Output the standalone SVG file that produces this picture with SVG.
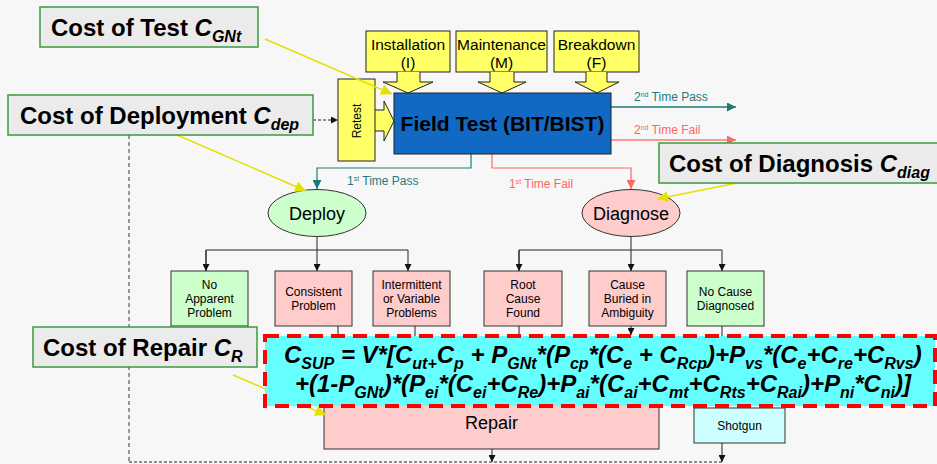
<svg xmlns="http://www.w3.org/2000/svg" width="937" height="464" viewBox="0 0 937 464">
<style>
text{font-family:"Liberation Sans",Arial,sans-serif;fill:#000}
.ann{fill:#EBEBEB;stroke:#3C9A3C;stroke-width:1.5}
.annt{font-size:24px;font-weight:bold}
.sub{font-size:16px;font-style:italic}
.inp{fill:#FFFF66;stroke:#222;stroke-width:1}
.inpt{font-size:15.5px;text-anchor:middle}
.pink{fill:#FFCCCC;stroke:#333;stroke-width:1}
.green{fill:#CCFFCC;stroke:#333;stroke-width:1}
.cyan{fill:#CCFFFF;stroke:#333;stroke-width:1}
.small{font-size:12px;text-anchor:middle}
.ell{font-size:18px;text-anchor:middle}
.lbl{font-size:12px}
.conn{fill:none;stroke:#222;stroke-width:1}
.yel{stroke:#E6E000;stroke-width:1.5;fill:none}
.f{font-size:24px;font-weight:bold;font-style:italic}
.fs{font-size:16px}
</style>
<defs>
<marker id="ab" viewBox="0 0 10 10" refX="10" refY="5" markerWidth="7" markerHeight="7" markerUnits="userSpaceOnUse" orient="auto"><path d="M0,0L10,5L0,10z" fill="#111"/></marker>
<marker id="at" viewBox="0 0 10 10" refX="10" refY="5" markerWidth="9" markerHeight="9" markerUnits="userSpaceOnUse" orient="auto"><path d="M0,0L10,5L0,10z" fill="#1F7A7A"/></marker>
<marker id="ar" viewBox="0 0 10 10" refX="10" refY="5" markerWidth="9" markerHeight="9" markerUnits="userSpaceOnUse" orient="auto"><path d="M0,0L10,5L0,10z" fill="#FF6666"/></marker>
<marker id="ay" viewBox="0 0 10 10" refX="10" refY="5" markerWidth="11" markerHeight="11" markerUnits="userSpaceOnUse" orient="auto"><path d="M0,0L10,5L0,10z" fill="#E6E000"/></marker>
</defs>
<rect width="937" height="464" fill="#F7F7F7"/>

<g id="connectors">
<line x1="129" y1="135" x2="129" y2="462" stroke="#777" stroke-width="1.5" stroke-dasharray="4,3"/>
<line x1="129" y1="462" x2="722" y2="462" stroke="#222" stroke-width="1" stroke-dasharray="3,2"/>
<line x1="313" y1="120" x2="338" y2="120" class="conn" stroke-dasharray="3,2" marker-end="url(#ab)"/>
<polyline points="611,107 736,107" fill="none" stroke="#1F7A7A" stroke-width="1.5" marker-end="url(#at)"/>
<polyline points="611,140 736,140" fill="none" stroke="#FF7777" stroke-width="1.5" marker-end="url(#ar)"/>
<polyline points="471,154 471,168 317,168 317,189" fill="none" stroke="#1F7A7A" stroke-width="1.2" marker-end="url(#at)"/>
<polyline points="492,154 492,168 631,168 631,189" fill="none" stroke="#FF6666" stroke-width="1.2" marker-end="url(#ar)"/>
<line x1="317" y1="237" x2="317" y2="250" class="conn"/>
<polyline points="206,271 206,250 408,250 408,271" class="conn" marker-end="url(#ab)"/>
<line x1="206" y1="250" x2="206" y2="271" class="conn" marker-end="url(#ab)"/>
<line x1="317" y1="250" x2="317" y2="271" class="conn" marker-end="url(#ab)"/>
<line x1="631" y1="237" x2="631" y2="250" class="conn"/>
<polyline points="519,271 519,250 722,250 722,271" class="conn" marker-end="url(#ab)"/>
<line x1="519" y1="250" x2="519" y2="271" class="conn" marker-end="url(#ab)"/>
<line x1="631" y1="250" x2="631" y2="271" class="conn" marker-end="url(#ab)"/>
<line x1="338" y1="326" x2="338" y2="406" class="conn"/>
<line x1="415" y1="326" x2="415" y2="406" class="conn"/>
<line x1="519" y1="326" x2="519" y2="406" class="conn"/>
<line x1="631" y1="326" x2="631" y2="335" class="conn" marker-end="url(#ab)"/>
<line x1="722" y1="326" x2="722" y2="408" class="conn"/>
<line x1="492" y1="449" x2="492" y2="462" class="conn" marker-end="url(#ab)"/>
<line x1="722" y1="443" x2="722" y2="462" class="conn" marker-end="url(#ab)"/>
</g>

<g id="label-2nd-pass"><text x="634" y="101" class="lbl" style="fill:#1F7A7A">2<tspan font-size="7" dy="-4">nd</tspan><tspan dy="4"> Time Pass</tspan></text></g>
<g id="label-2nd-fail"><text x="634" y="134" class="lbl" style="fill:#FF6666">2<tspan font-size="7" dy="-4">nd</tspan><tspan dy="4"> Time Fail</tspan></text></g>
<g id="label-1st-pass"><text x="347" y="185" class="lbl" style="fill:#1F7A7A">1<tspan font-size="7" dy="-4">st</tspan><tspan dy="4"> Time Pass</tspan></text></g>
<g id="label-1st-fail"><text x="509" y="188" class="lbl" style="fill:#FF6666">1<tspan font-size="7" dy="-4">st</tspan><tspan dy="4"> Time Fail</tspan></text></g>

<g id="installation">
<rect x="366" y="31" width="84" height="41" class="inp"/>
<text x="408" y="50" class="inpt">Installation</text><text x="408" y="68" class="inpt">(I)</text>
<path d="M397,72 V82 H383 L408,93 L433,82 H420 V72" class="inp"/>
</g>
<g id="maintenance">
<rect x="456" y="31" width="91" height="41" class="inp"/>
<text x="501.5" y="50" class="inpt">Maintenance</text><text x="501.5" y="68" class="inpt">(M)</text>
<path d="M490,72 V82 H478 L502,93 L526,82 H514 V72" class="inp"/>
</g>
<g id="breakdown">
<rect x="554" y="31" width="85" height="41" class="inp"/>
<text x="596.5" y="50" class="inpt">Breakdown</text><text x="596.5" y="68" class="inpt">(F)</text>
<path d="M586,72 V82 H575 L597,93 L619,82 H607 V72" class="inp"/>
</g>
<g id="retest">
<path d="M375,110 H384 V101 L394,121 L384,141 V131 H375" class="inp"/>
<rect x="338" y="79" width="37" height="82" class="inp"/>
<text transform="translate(361,121) rotate(-90)" font-size="12" text-anchor="middle">Retest</text>
</g>
<g id="field-test">
<rect x="394" y="93" width="217" height="61" fill="#1169C4" stroke="#222" stroke-width="1"/>
<text x="502.5" y="131" font-size="21" font-weight="bold" text-anchor="middle">Field Test (BIT/BIST)</text>
</g>

<g id="deploy">
<ellipse cx="317" cy="213" rx="49" ry="23.5" class="green"/>
<text x="317" y="220" class="ell">Deploy</text>
</g>
<g id="diagnose">
<ellipse cx="631" cy="213" rx="49" ry="23.5" class="pink"/>
<text x="631" y="220" class="ell">Diagnose</text>
</g>

<g id="no-apparent-problem">
<rect x="171" y="271" width="77" height="55" class="green"/>
<text class="small"><tspan x="209.5" y="289">No</tspan><tspan x="209.5" y="303">Apparent</tspan><tspan x="209.5" y="317">Problem</tspan></text>
</g>
<g id="consistent-problem">
<rect x="275" y="271" width="77" height="55" class="pink"/>
<text class="small"><tspan x="313.5" y="296">Consistent</tspan><tspan x="313.5" y="310">Problem</tspan></text>
</g>
<g id="intermittent">
<rect x="373" y="271" width="77" height="55" class="pink"/>
<text class="small"><tspan x="411.5" y="289">Intermittent</tspan><tspan x="411.5" y="303">or Variable</tspan><tspan x="411.5" y="317">Problems</tspan></text>
</g>
<g id="root-cause">
<rect x="484" y="271" width="78" height="55" class="pink"/>
<text class="small"><tspan x="523" y="289">Root</tspan><tspan x="523" y="303">Cause</tspan><tspan x="523" y="317">Found</tspan></text>
</g>
<g id="cause-buried">
<rect x="589" y="271" width="77" height="55" class="pink"/>
<text class="small"><tspan x="627.5" y="289">Cause</tspan><tspan x="627.5" y="303">Buried in</tspan><tspan x="627.5" y="317">Ambiguity</tspan></text>
</g>
<g id="no-cause">
<rect x="687" y="271" width="77" height="55" class="green"/>
<text class="small"><tspan x="725.5" y="296">No Cause</tspan><tspan x="725.5" y="310">Diagnosed</tspan></text>
</g>

<g id="repair">
<rect x="324" y="390" width="335" height="59" class="pink"/>
<text x="465" y="429" font-size="18">Repair</text>
</g>
<g id="shotgun">
<rect x="694" y="408" width="91" height="35" class="cyan"/>
<text x="739.5" y="430" font-size="12" text-anchor="middle">Shotgun</text>
</g>

<g id="annotation-arrows">
<line x1="265" y1="39" x2="392" y2="94" class="yel" marker-end="url(#ay)"/>
<line x1="177" y1="135" x2="306" y2="191" class="yel" marker-end="url(#ay)"/>
<line x1="737" y1="183" x2="657" y2="199" class="yel" marker-end="url(#ay)"/>
<line x1="233" y1="375" x2="326" y2="415" class="yel" marker-end="url(#ay)"/>
</g>

<g id="formula">
<rect x="265" y="336" width="670" height="70" fill="#66FFFF" stroke="#FF0000" stroke-width="4" stroke-dasharray="14,8"/>
<text class="f" x="284" y="363">C<tspan class="fs" dy="6">SUP</tspan><tspan dy="-6"> = V*[C</tspan><tspan class="fs" dy="6">ut+</tspan><tspan dy="-6">C</tspan><tspan class="fs" dy="6">p</tspan><tspan dy="-6"> + P</tspan><tspan class="fs" dy="6">GNt</tspan><tspan dy="-6">*(P</tspan><tspan class="fs" dy="6">cp</tspan><tspan dy="-6">*(C</tspan><tspan class="fs" dy="6">e</tspan><tspan dy="-6"> + C</tspan><tspan class="fs" dy="6">Rcp</tspan><tspan dy="-6">)+P</tspan><tspan class="fs" dy="6">vs</tspan><tspan dy="-6">*(C</tspan><tspan class="fs" dy="6">e</tspan><tspan dy="-6">+C</tspan><tspan class="fs" dy="6">re</tspan><tspan dy="-6">+C</tspan><tspan class="fs" dy="6">Rvs</tspan><tspan dy="-6">)</tspan></text>
<text class="f" x="295" y="392">+(1-P<tspan class="fs" dy="6">GNt</tspan><tspan dy="-6">)*(P</tspan><tspan class="fs" dy="6">ei</tspan><tspan dy="-6">*(C</tspan><tspan class="fs" dy="6">ei</tspan><tspan dy="-6">+C</tspan><tspan class="fs" dy="6">Re</tspan><tspan dy="-6">)+P</tspan><tspan class="fs" dy="6">ai</tspan><tspan dy="-6">*(C</tspan><tspan class="fs" dy="6">ai</tspan><tspan dy="-6">+C</tspan><tspan class="fs" dy="6">mt</tspan><tspan dy="-6">+C</tspan><tspan class="fs" dy="6">Rts</tspan><tspan dy="-6">+C</tspan><tspan class="fs" dy="6">Rai</tspan><tspan dy="-6">)+P</tspan><tspan class="fs" dy="6">ni</tspan><tspan dy="-6">*C</tspan><tspan class="fs" dy="6">ni</tspan><tspan dy="-6">)]</tspan></text>
</g>

<g id="cost-test">
<rect x="40" y="7" width="218" height="40" class="ann"/>
<text x="51" y="36" class="annt">Cost of Test <tspan font-style="italic">C</tspan><tspan class="sub" dy="6">GNt</tspan></text>
</g>
<g id="cost-deployment">
<rect x="8" y="95" width="305" height="40" class="ann"/>
<text x="20" y="124" class="annt">Cost of Deployment <tspan font-style="italic">C</tspan><tspan class="sub" dy="6">dep</tspan></text>
</g>
<g id="cost-diagnosis">
<rect x="659" y="143" width="290" height="40" class="ann"/>
<text x="669" y="172" class="annt">Cost of Diagnosis <tspan font-style="italic">C</tspan><tspan class="sub" dy="6">diag</tspan></text>
</g>
<g id="cost-repair">
<rect x="33" y="327" width="224" height="40" class="ann"/>
<text x="43" y="356" class="annt">Cost of Repair <tspan font-style="italic">C</tspan><tspan class="sub" dy="6">R</tspan></text>
</g>
</svg>
